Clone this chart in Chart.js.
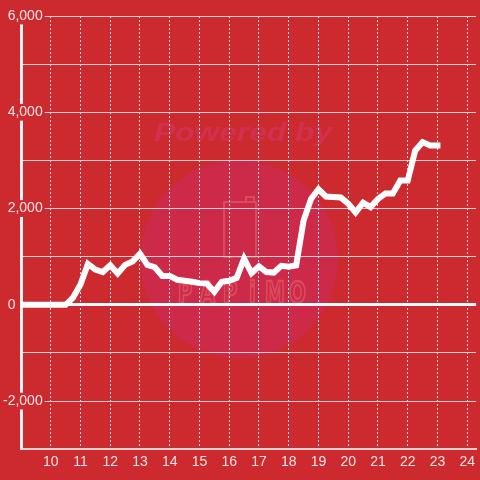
<!DOCTYPE html>
<html>
<head>
<meta charset="utf-8">
<script src="https://cdn.jsdelivr.net/npm/chart.js@4"></script>
<style>
  html, body { margin: 0; padding: 0; background: #cc2a2f; }
  #wrap { width: 480px; height: 480px; }
</style>
</head>
<body>
<div id="wrap"><canvas id="chartCanvas" width="480" height="480"></canvas></div>
<script>
// Time of day (hours) and running total
const hours = [9.0, 10.5, 10.75, 11.0, 11.25, 11.5, 11.75, 12.0, 12.25, 12.5, 12.75, 13.0,
    13.25, 13.5, 13.75, 14.0, 14.25, 14.5, 14.75, 15.0, 15.25, 15.5, 15.75, 16.0,
    16.25, 16.5, 16.75, 17.0, 17.25, 17.5, 17.75, 18.0, 18.25, 18.5, 18.75, 19.0,
    19.25, 19.5, 19.75, 20.0, 20.25, 20.5, 20.75, 21.0, 21.25, 21.5, 21.75, 22.0,
    22.25, 22.5, 22.75, 23.0, 23.1];
const totals = [0, 0, 150, 420, 850, 730, 680, 820, 650, 830, 900, 1060,
    830, 780, 600, 600, 520, 500, 480, 450, 440, 270, 480, 500,
    560, 960, 660, 800, 680, 670, 810, 790, 820, 1750, 2200, 2400,
    2250, 2240, 2230, 2100, 1920, 2120, 2030, 2200, 2310, 2310, 2580, 2580,
    3200, 3380, 3310, 3310, 3310];

// Tick labels
const xTickHours = [10, 11, 12, 13, 14, 15, 16, 17, 18, 19, 20, 21, 22, 23, 24];
const yTickValues = [-2000, 0, 2000, 4000, 6000];

const RED = '#cc2a2f';

Chart.defaults.font.family = '"Liberation Sans", Arial, sans-serif';
Chart.defaults.font.size = 14;
Chart.defaults.color = '#f4e4e4';

// Faint "Powered by" watermark, drawn before the grid
const watermark = {
    id: 'watermark',
    beforeDraw(chart) {
        const c = chart.ctx;
        c.save();
        c.fillStyle = '#cd2948';
        c.beginPath();
        c.arc(239, 259, 99, 0, Math.PI * 2);
        c.fill();

        c.save();
        c.fillStyle = '#d2304e';
        c.font = 'italic bold 26px "Liberation Sans", Arial, sans-serif';
        c.textAlign = 'center';
        c.textBaseline = 'alphabetic';
        c.translate(243, 141);
        c.scale(1.22, 1);
        c.fillText('Powered by', 0, 0);
        c.restore();

        c.strokeStyle = 'rgba(235, 120, 120, 0.45)';
        c.lineWidth = 2;
        c.beginPath();
        c.rect(224, 202, 32, 55);
        c.moveTo(246, 202);
        c.lineTo(246, 197);
        c.lineTo(254, 197);
        c.lineTo(254, 202);
        c.stroke();

        // logo letters, tall and spaced out
        c.font = 'bold 20px "DejaVu Sans", sans-serif';
        c.textAlign = 'center';
        c.lineWidth = 1.5;
        'PAPiMO'.split('').forEach((ch, i) => {
            c.save();
            c.translate(185 + i * 22.5, 303);
            c.scale(1, 1.55);
            c.strokeText(ch, 0, 0);
            c.restore();
        });
        c.restore();
    }
};

const ctx = document.getElementById('chartCanvas');

window.myChart = new Chart(ctx, {
    type: 'line',
    data: {
        datasets: [{
            data: hours.map((h, i) => ({ x: h, y: totals[i] })),
            borderColor: '#ffffff',
            borderWidth: 6,
            pointRadius: 0,
            tension: 0,
            fill: false
        }]
    },
    options: {
        responsive: false,
        animation: false,
        layout: { padding: { left: 3, top: 16, right: 0, bottom: 4 } },
        plugins: {
            legend: { display: false },
            tooltip: { enabled: false }
        },
        scales: {
            x: {
                type: 'linear',
                min: 9,
                max: 24.3,
                afterBuildTicks: (scale) => {
                    scale.ticks = xTickHours.map(v => ({ value: v }));
                },
                ticks: {
                    padding: 5,
                    maxRotation: 0,
                    callback: (v) => String(v)
                },
                grid: {
                    color: 'rgba(255, 255, 255, 0.85)',
                    lineWidth: 1,
                    drawTicks: false
                },
                border: { color: '#d2d2d2', width: 2, dash: [2, 2] }
            },
            y: {
                min: -3000,
                max: 6000,
                // labels sit over the axis line: mirrored (not clipped), width fixed by hand
                afterFit: (scale) => { scale.width = 18; },
                ticks: {
                    stepSize: 1000,
                    mirror: true,
                    crossAlign: 'far',
                    padding: -18,
                    showLabelBackdrop: true,
                    backdropPadding: { x: 2, y: 0 },
                    backdropColor: (c) => (c.tick && yTickValues.includes(c.tick.value) && c.tick.value !== 0) ? RED : 'rgba(0,0,0,0)',
                    callback: (v) => {
                        if (!yTickValues.includes(v)) return '';
                        if (v === 0) return '0\u2007\u2007\u2007 ';
                        return v.toLocaleString('en-US');
                    }
                },
                grid: {
                    color: (c) => c.tick.value === 0 ? '#ffffff' : '#d2d2d2',
                    lineWidth: (c) => c.tick.value === 0 ? 3 : 1,
                    drawTicks: false
                },
                border: { color: '#f2f2f2', width: 3 }
            }
        }
    },
    plugins: [watermark]
});
</script>
</body>
</html>
